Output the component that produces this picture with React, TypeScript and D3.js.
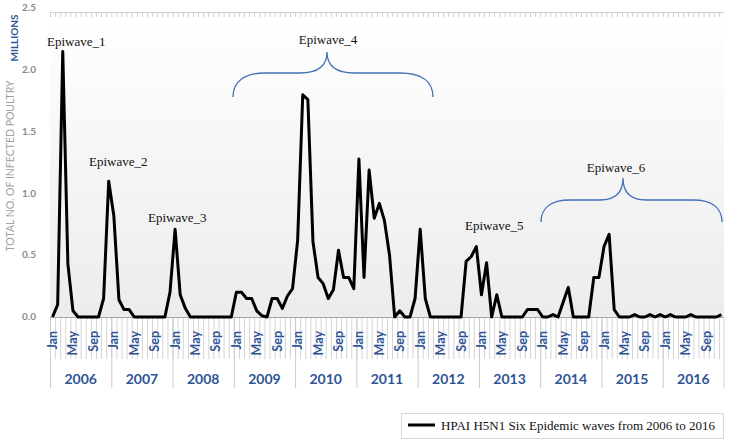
import React from "react";
import { scaleBand, scaleLinear, line } from "d3";

// monthly totals (millions), Jan..Dec
const years = ["2006", "2007", "2008", "2009", "2010", "2011", "2012", "2013", "2014", "2015", "2016"];
const v2006 = [0, 0.1, 2.15, 0.43, 0.05, 0, 0, 0, 0, 0, 0.15, 1.1];
const v2007 = [0.82, 0.14, 0.06, 0.06, 0, 0, 0, 0, 0, 0, 0, 0.2];
const v2008 = [0.71, 0.18, 0.07, 0, 0, 0, 0, 0, 0, 0, 0, 0];
const v2009 = [0.2, 0.2, 0.15, 0.15, 0.05, 0.01, 0, 0.15, 0.15, 0.07, 0.17, 0.23];
const v2010 = [0.62, 1.8, 1.76, 0.61, 0.32, 0.27, 0.15, 0.22, 0.54, 0.32, 0.32, 0.23];
const v2011 = [1.28, 0.32, 1.19, 0.8, 0.92, 0.78, 0.5, 0, 0.05, 0, 0, 0.15];
const v2012 = [0.71, 0.15, 0, 0, 0, 0, 0, 0, 0, 0.45, 0.49, 0.57];
const v2013 = [0.18, 0.44, 0, 0.18, 0, 0, 0, 0, 0, 0.06, 0.06, 0.06];
const v2014 = [0, 0, 0.02, 0, 0.12, 0.24, 0, 0, 0, 0, 0.32, 0.32];
const v2015 = [0.57, 0.67, 0.06, 0, 0, 0, 0.02, 0, 0, 0.02, 0, 0.02];
const v2016 = [0, 0.02, 0, 0, 0, 0.02, 0, 0, 0, 0, 0, 0.02];
const months = ["Jan", "Feb", "Mar", "Apr", "May", "Jun", "Jul", "Aug", "Sep", "Oct", "Nov", "Dec"];
const shownMonths = ["Jan", "May", "Sep"];
const yTicks = [0, 0.5, 1.0, 1.5, 2.0, 2.5];

const series = [v2006, v2007, v2008, v2009, v2010, v2011, v2012, v2013, v2014, v2015, v2016];
const data = series.flatMap((vals, yi) =>
  vals.map((v, mi) => ({ key: years[yi] + "-" + mi, year: years[yi], month: months[mi], value: v }))
);

const BLUE = "#2f5597";
const BRACE = "#4170b5";
const SERIF = "'Liberation Serif', 'Times New Roman', Times, serif";

const App = () => {
  const x = scaleBand().domain(data.map((d) => d.key)).range([50, 724]);
  const y = scaleLinear().domain([0, 2.5]).range([317, 8.3]);
  const bw = x.bandwidth();
  const cx = (k) => x(k) + bw / 2;

  const path = line()
    .x((d) => cx(d.key))
    .y((d) => y(d.value));

  const yearStart = (yr) => x(yr + "-0");

  return (
    <svg width={754} height={440} style={{ position: "absolute", left: 0, top: 0, background: "#fff" }}>
      <defs>
        <linearGradient id="bg" x1="0" y1="0" x2="0" y2="1">
          <stop offset="0" stopColor="#ffffff" />
          <stop offset="1" stopColor="#ececec" />
        </linearGradient>
      </defs>
      <rect x={50} y={12} width={674} height={305} fill="url(#bg)" />

      {/* top minor ticks */}
      <line x1={50} x2={724} y1={12.5} y2={12.5} stroke="#cfcfcf" />
      {data.map((d) => (
        <line key={"t" + d.key} x1={x(d.key) + 0.5} x2={x(d.key) + 0.5} y1={12.5} y2={17} stroke="#cfcfcf" />
      ))}

      {/* y axis labels */}
      {yTicks.map((t) => (
        <text key={t} x={36} y={y(t) + 3} textAnchor="end" fontFamily="Lato, sans-serif" fontSize={10} fontWeight="bold" fill="#8a8a8a">
          {t.toFixed(1)}
        </text>
      ))}
      <text transform="translate(18,38) rotate(-90)" textAnchor="middle" fontFamily="Lato, sans-serif" fontWeight="bold" fontSize={10} fill={BLUE}>
        MILLIONS
      </text>
      <text transform="translate(14,166) rotate(-90)" textAnchor="middle" fontFamily="Lato, sans-serif" fontSize={10.5} fill="#a0a0a0">
        TOTAL NO. OF INFECTED POULTRY
      </text>

      {/* month ticks below axis */}
      {data.map((d) => (
        <line key={"b" + d.key} x1={x(d.key) + 0.5} x2={x(d.key) + 0.5} y1={318} y2={359} stroke="#d4d4d4" />
      ))}
      <line x1={724} x2={724} y1={318} y2={388} stroke="#d4d4d4" />
      {years.map((yr) => (
        <g key={yr}>
          <line x1={yearStart(yr) + 0.5} x2={yearStart(yr) + 0.5} y1={318} y2={388} stroke="#cccccc" />
          <text x={yearStart(yr) + bw * 6} y={384} textAnchor="middle" fontFamily="Lato, sans-serif" fontWeight="bold" fontSize={14} fill={BLUE}>
            {yr}
          </text>
        </g>
      ))}
      {data
        .filter((d) => shownMonths.includes(d.month))
        .map((d) => (
          <text
            key={"m" + d.key}
            transform={`translate(${cx(d.key) + 4.5},331) rotate(-90)`}
            textAnchor="end"
            fontFamily="Lato, sans-serif"
            fontWeight="bold"
            fontSize={12.5}
            fill={BLUE}
          >
            {d.month}
          </text>
        ))}

      <line x1={50} x2={724} y1={317.5} y2={317.5} stroke="#a6a6a6" />

      {/* data line */}
      <path d={path(data)} fill="none" stroke="#000" strokeWidth={3} strokeLinejoin="round" />

      {/* annotations */}
      <g fontFamily={SERIF} fontSize={13} fill="#111">
        <text x={47} y={46}>Epiwave_1</text>
        <text x={89} y={166}>Epiwave_2</text>
        <text x={148} y={222}>Epiwave_3</text>
        <text x={328} y={44} textAnchor="middle">Epiwave_4</text>
        <text x={465} y={230}>Epiwave_5</text>
        <text x={616} y={172} textAnchor="middle">Epiwave_6</text>
      </g>
      <path
        d="M233,97 C233,81 245,73 265,73 L300,73 C318,73 327,66 327,52 C327,66 336,73 354,73 L400,73 C421,73 433,81 433,97"
        fill="none"
        stroke={BRACE}
        strokeWidth={1.3}
      />
      <path
        d="M541,222 C541,208 551,200 570,200 L600,200 C616,200 623,192 623,178 C623,192 630,200 646,200 L693,200 C712,200 722,208 722,222"
        fill="none"
        stroke={BRACE}
        strokeWidth={1.3}
      />

      {/* legend */}
      <rect x={401.5} y={413.5} width={322} height={25} fill="#fff" stroke="#d9d9d9" />
      <line x1={408} x2={435} y1={425} y2={425} stroke="#000" strokeWidth={3} />
      <text x={441} y={430} fontFamily={SERIF} fontSize={13} fill="#111">
        HPAI H5N1 Six Epidemic waves from 2006 to 2016
      </text>
    </svg>
  );
};

export default App;
